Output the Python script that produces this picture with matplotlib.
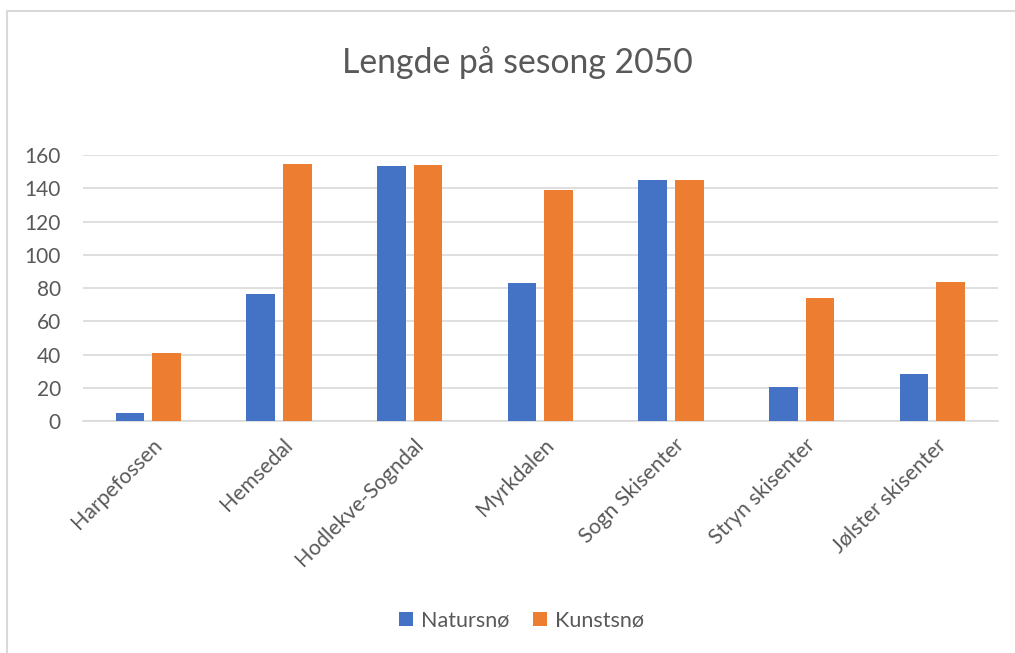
import matplotlib
matplotlib.use("Agg")
import matplotlib.pyplot as plt
import numpy as np
from matplotlib.lines import Line2D
from matplotlib.transforms import ScaledTranslation

# data
steder = ["Harpefossen", "Hemsedal", "Hodlekve-Sogndal", "Myrkdalen",
          "Sogn Skisenter", "Stryn skisenter", "Jølster skisenter"]
natursno = [5, 76.7, 153.4, 83, 145.1, 20.5, 28.4]
kunstsno = [41.2, 154.8, 154, 139.3, 145.3, 73.9, 83.5]
yticks = [0, 20, 40, 60, 80, 100, 120, 140, 160]

plt.rcParams['font.family'] = ['Lato', 'DejaVu Sans']
grey = '#595959'
grid = '#d9d9d9'

fig = plt.figure(figsize=(10.15, 6.53), dpi=100)
ax = fig.add_axes([0.0818, 0.3553, 0.9012, 0.4069])

x = np.arange(len(steder))
w = 0.22
ax.bar(x - 0.14, natursno, w, color='#4472C4', label='Natursnø', zorder=3)
ax.bar(x + 0.14, kunstsno, w, color='#ED7D31', label='Kunstsnø', zorder=3)

ax.set_xlim(-0.5, len(steder) - 0.5)
ax.set_ylim(0, 160)
ax.set_yticks(yticks)
ax.yaxis.grid(True, color=grid, linewidth=1.2, zorder=0)
ax.set_axisbelow(True)
for s in ['top', 'right', 'left']:
    ax.spines[s].set_visible(False)
ax.spines['bottom'].set_color(grid)
ax.spines['bottom'].set_linewidth(1.2)
ax.tick_params(axis='both', length=0, colors=grey)
ax.tick_params(axis='y', pad=16, labelsize=15)
ax.set_xticks(x)
ax.set_xticklabels(steder, rotation=45, ha='right', va='top',
                   rotation_mode='anchor', fontsize=15.3)
ax.tick_params(axis='x', pad=10)
# nudge labels a little to the right, like Excel does
shift = ScaledTranslation(3 / 100, 0, fig.dpi_scale_trans)
for lab in ax.get_xticklabels():
    lab.set_transform(lab.get_transform() + shift)

fig.suptitle("Lengde på sesong 2050", x=0.51, y=0.93, fontsize=24.3,
             color=grey)

leg = fig.legend(loc='center', bbox_to_anchor=(0.514, 0.05), ncol=2,
                 frameon=False, fontsize=15.5, handlelength=0.65,
                 handleheight=0.65, handletextpad=0.36, columnspacing=1.1)
for t in leg.get_texts():
    t.set_color(grey)

# chart border (only left and top edges are inside the screenshot)
fig.add_artist(Line2D([7 / 1015, 7 / 1015, 1.0], [0.0, 1 - 11 / 653, 1 - 11 / 653],
                      transform=fig.transFigure, color=grid, linewidth=1.5))

fig.savefig("out.png", dpi=100)
